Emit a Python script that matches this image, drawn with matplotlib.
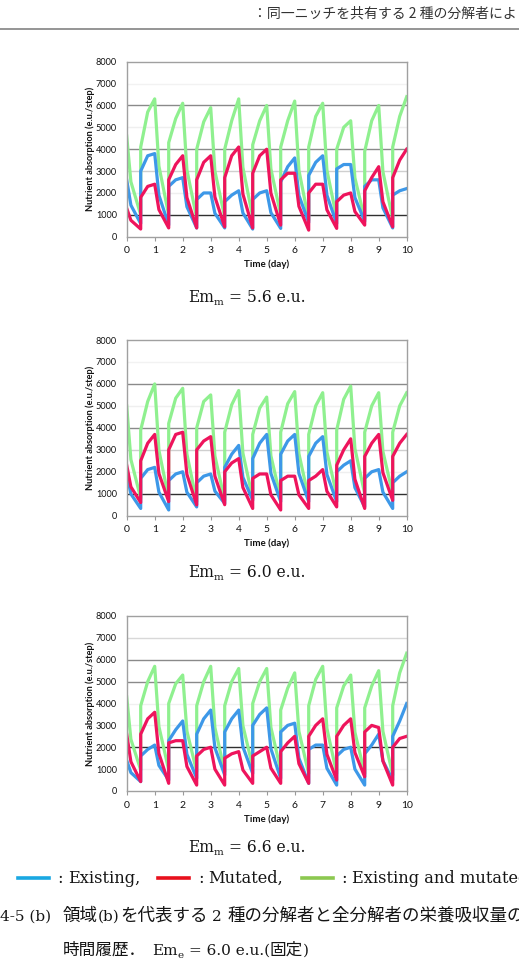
import matplotlib
matplotlib.use("Agg")
import matplotlib.pyplot as plt
from matplotlib.lines import Line2D

# ---------------- data ----------------
days = list(range(11))
y_ticks = [0, 1000, 2000, 3000, 4000, 5000, 6000, 7000, 8000]

# per series: value at t=0, then per day r (0..9):
#   jump (t=r+0.5), rise mid (t=r+0.75), peak (t=r+1)
#   decay d (0..9): mid (t=d+0.15), low (t=d+0.5)
# ---- Em_m = 5.6 ----
em56_existing_start = 2600
em56_existing_jump = [3000, 2300, 1700, 1600, 1700, 2500, 2800, 3100, 2300, 1900]
em56_existing_mid = [3700, 2600, 2000, 1900, 2000, 3200, 3400, 3300, 2600, 2100]
em56_existing_peak = [3800, 2700, 2000, 2100, 2100, 3600, 3700, 3300, 2600, 2200]
em56_existing_dec = [1440, 1900, 1370, 1070, 1085, 1100, 1890, 1900, 1790, 1320]
em56_existing_low = [600, 530, 400, 400, 350, 380, 650, 600, 700, 400]

em56_mutated_start = 1300
em56_mutated_jump = [1800, 2600, 2600, 2700, 2900, 2600, 2000, 1600, 2100, 2700]
em56_mutated_mid = [2300, 3300, 3400, 3700, 3700, 2900, 2400, 1900, 2700, 3500]
em56_mutated_peak = [2400, 3700, 3700, 4100, 4000, 2900, 2400, 2000, 3200, 4000]
em56_mutated_dec = [750, 1240, 1790, 1815, 1950, 1990, 1390, 1230, 1150, 1600]
em56_mutated_low = [350, 400, 400, 450, 400, 530, 300, 380, 530, 450]

em56_total_start = 4600
em56_total_jump = [4100, 4300, 4000, 4000, 4200, 4100, 4100, 4000, 3900, 4100]
em56_total_mid = [5700, 5400, 5250, 5300, 5300, 5300, 5500, 5000, 5300, 5500]
em56_total_peak = [6300, 6100, 5900, 6300, 6000, 6200, 6100, 5300, 6000, 6400]
em56_total_dec = [2510, 3230, 3055, 3000, 3170, 3100, 3045, 3050, 2690, 2980]
em56_total_low = [1000, 1000, 850, 900, 900, 1000, 760, 840, 800, 800]

# ---- Em_m = 6.0 ----
em60_existing_start = 1900
em60_existing_jump = [1700, 1600, 1500, 2200, 2600, 2800, 2700, 2000, 1700, 1500]
em60_existing_mid = [2100, 1900, 1800, 2800, 3300, 3400, 3300, 2300, 2000, 1800]
em60_existing_peak = [2200, 2000, 1900, 3200, 3700, 3700, 3600, 2500, 2100, 2000]
em60_existing_dec = [990, 1075, 1070, 1120, 1750, 1925, 1925, 1880, 1280, 1075]
em60_existing_low = [330, 260, 400, 560, 700, 640, 640, 640, 400, 330]

em60_mutated_start = 2300
em60_mutated_jump = [2500, 3000, 3000, 2000, 1700, 1600, 1600, 2300, 2700, 2700]
em60_mutated_mid = [3300, 3700, 3400, 2400, 1900, 1800, 1800, 3000, 3300, 3300]
em60_mutated_peak = [3700, 3800, 3600, 2600, 1900, 1800, 2100, 3500, 3700, 3700]
em60_mutated_dec = [1315, 1925, 1880, 1800, 1285, 950, 950, 1115, 1660, 1960]
em60_mutated_low = [600, 640, 490, 500, 330, 260, 330, 400, 330, 700]

em60_total_start = 5000
em60_total_jump = [3900, 4200, 4000, 3800, 3700, 3800, 3700, 3900, 3800, 3800]
em60_total_mid = [5200, 5350, 5200, 5050, 4900, 5100, 5000, 5300, 5000, 5000]
em60_total_peak = [6000, 5800, 5500, 5700, 5400, 5650, 5600, 5900, 5600, 5600]
em60_total_dec = [2560, 2980, 2810, 2720, 2850, 2730, 2830, 2900, 3060, 2930]
em60_total_low = [800, 790, 640, 700, 790, 790, 790, 940, 1000, 1000]

# ---- Em_m = 6.6 ----
em66_existing_start = 1400
em66_existing_jump = [1600, 2300, 2600, 2700, 3000, 2700, 1900, 1600, 1700, 2500]
em66_existing_mid = [1900, 2800, 3300, 3300, 3500, 3000, 2100, 1900, 2100, 3200]
em66_existing_peak = [2100, 3200, 3700, 3700, 3800, 3100, 2100, 2000, 2600, 4000]
em66_existing_dec = [840, 1170, 1680, 1980, 2020, 1930, 1505, 1040, 1000, 1380]
em66_existing_low = [430, 500, 580, 730, 800, 580, 350, 270, 270, 500]

em66_mutated_start = 2600
em66_mutated_jump = [2600, 2200, 1600, 1500, 1600, 1800, 2500, 2500, 2700, 2000]
em66_mutated_mid = [3300, 2300, 1900, 1700, 1800, 2200, 3000, 3000, 3000, 2400]
em66_mutated_peak = [3600, 2300, 2000, 1800, 2000, 2500, 3300, 3300, 2900, 2500]
em66_mutated_dec = [1340, 1715, 1120, 1000, 960, 1045, 1250, 1680, 1760, 1375]
em66_mutated_low = [430, 350, 270, 270, 350, 350, 350, 500, 650, 270]

em66_total_start = 4300
em66_total_jump = [3900, 4000, 3900, 3900, 4000, 3700, 3900, 3800, 3800, 3900]
em66_total_mid = [5000, 4900, 5000, 5000, 5000, 4700, 5100, 4800, 4800, 5400]
em66_total_peak = [5700, 5300, 5700, 5600, 5600, 5400, 5700, 5300, 5500, 6300]
em66_total_dec = [2360, 2950, 2740, 2900, 2990, 2910, 2730, 2860, 2690, 2730]
em66_total_low = [960, 960, 880, 880, 1100, 960, 800, 800, 800, 730]

captions = ["5.6", "6.0", "6.6"]
legend_labels = ["Existing,", "Mutated,", "Existing and mutated"]

# ---------------- helpers ----------------
def series(start, jump, mid, peak, dec, low):
    t = [0.0, 0.15, 0.5]
    v = [start, dec[0], low[0]]
    for r in range(10):
        t += [r + 0.5, r + 0.75, r + 1.0]
        v += [jump[r], mid[r], peak[r]]
        if r < 9:
            t += [r + 1.15, r + 1.5]
            v += [dec[r + 1], low[r + 1]]
    return t, v

charts = [
    dict(top=61.7, bottom=236.7,
         ex=(em56_existing_start, em56_existing_jump, em56_existing_mid, em56_existing_peak, em56_existing_dec, em56_existing_low),
         mu=(em56_mutated_start, em56_mutated_jump, em56_mutated_mid, em56_mutated_peak, em56_mutated_dec, em56_mutated_low),
         to=(em56_total_start, em56_total_jump, em56_total_mid, em56_total_peak, em56_total_dec, em56_total_low),
         grid={1000: "#303030", 2000: "#efefef", 3000: "#cfcfcf", 4000: "#8a8a8a",
               5000: "#efefef", 6000: "#8a8a8a", 7000: "#f2f2f2"},
         cap_y=297),
    dict(top=340.0, bottom=515.7,
         ex=(em60_existing_start, em60_existing_jump, em60_existing_mid, em60_existing_peak, em60_existing_dec, em60_existing_low),
         mu=(em60_mutated_start, em60_mutated_jump, em60_mutated_mid, em60_mutated_peak, em60_mutated_dec, em60_mutated_low),
         to=(em60_total_start, em60_total_jump, em60_total_mid, em60_total_peak, em60_total_dec, em60_total_low),
         grid={1000: "#303030", 2000: "#efefef", 3000: "#cfcfcf", 4000: "#8a8a8a",
               5000: "#efefef", 6000: "#8a8a8a", 7000: "#f2f2f2"},
         cap_y=572),
    dict(top=616.0, bottom=791.0,
         ex=(em66_existing_start, em66_existing_jump, em66_existing_mid, em66_existing_peak, em66_existing_dec, em66_existing_low),
         mu=(em66_mutated_start, em66_mutated_jump, em66_mutated_mid, em66_mutated_peak, em66_mutated_dec, em66_mutated_low),
         to=(em66_total_start, em66_total_jump, em66_total_mid, em66_total_peak, em66_total_dec, em66_total_low),
         grid={1000: "#f0f0f0", 2000: "#303030", 3000: "#f0f0f0", 4000: "#f0f0f0",
               5000: "#8a8a8a", 6000: "#8a8a8a", 7000: "#d8d8d8"},
         cap_y=847),
]

W, H = 519, 966
fig = plt.figure(figsize=(W / 100, H / 100), dpi=100)
renderer = fig.canvas.get_renderer()

SERIF = ["DejaVu Serif", "Noto Sans CJK JP"]
CJK = ["Noto Sans CJK JP", "DejaVu Sans"]
CHART_FONT = "Lato"
TXT = "#151515"

C_BLUE = "#3d98e8"
C_RED = "#ee145c"
C_GREEN = "#8ff08f"

AX_L, AX_R = 126.7, 406.7


def rich(x, base_y, pieces):
    """pieces: (text, family, size, dy_px, gap_after_px); drawn left to right."""
    for txt, fam, size, dy, gap in pieces:
        t = fig.text(x / W, 1 - (base_y + dy) / H, txt, fontsize=size, family=fam,
                     ha="left", va="baseline", color=TXT)
        x += t.get_window_extent(renderer).width + gap
    return x


for i, ch in enumerate(charts):
    top, bot = ch["top"], ch["bottom"]
    ax = fig.add_axes([AX_L / W, 1 - bot / H, (AX_R - AX_L) / W, (bot - top) / H])
    ax.set_xlim(0, 10)
    ax.set_ylim(0, 8000)
    for yv, col in ch["grid"].items():
        ax.axhline(yv, color=col, lw=1.0, zorder=1)
    for key, col in (("to", C_GREEN), ("ex", C_BLUE), ("mu", C_RED)):
        t, v = series(*ch[key])
        ax.plot(t, v, color=col, lw=2.3, zorder=2, solid_joinstyle="round")
    ax.set_xticks(days)
    ax.set_yticks(y_ticks)
    ax.tick_params(axis="x", length=3, width=0.8, color="#9a9a9a", pad=4,
                   labelsize=7.5, labelcolor="#111111")
    ax.tick_params(axis="y", length=0, pad=7, labelsize=6.6, labelcolor="#111111")
    for lab in ax.get_xticklabels() + ax.get_yticklabels():
        lab.set_fontfamily(CHART_FONT)
    for sp in ax.spines.values():
        sp.set_color("#a0a0a0")
        sp.set_linewidth(1.0)
    fig.text(90 / W, 1 - (top + bot) / 2 / H, "Nutrient absorption (e.u./step)",
             rotation=90, ha="center", va="center", fontsize=6.6,
             fontweight="bold", family=CHART_FONT, color="#111111")
    fig.text((AX_L + AX_R) / 2 / W, 1 - (bot + 28) / H, "Time (day)",
             ha="center", va="center", fontsize=7, fontweight="bold",
             family=CHART_FONT, color="#111111")
    # caption  Em_m = x.x e.u.
    rich(188, ch["cap_y"] + 5, [
        ("Em", SERIF, 11.2, 0, 0),
        ("m", SERIF, 7.5, 3, 5),
        ("= " + captions[i] + " e.u.", SERIF, 11.2, 0, 0),
    ])

# header
fig.text(517 / W, 1 - 13 / H, "：同一ニッチを共有する 2 種の分解者によ",
         ha="right", va="center", fontsize=10, family=CJK, color="#333333")
fig.add_artist(Line2D([0, 1], [1 - 29 / H, 1 - 29 / H], color="#8c8c8c", lw=1.3))

# legend row
ly = 878
for (x0, x1, col, cx, tx), lab in zip(((18, 49, "#1aa8e2", 57, 68),
                                       (158, 189, "#e8101c", 198, 208),
                                       (302, 333, "#8cc850", 341, 352)), legend_labels):
    fig.add_artist(Line2D([x0 / W, x1 / W], [1 - ly / H, 1 - ly / H], color=col, lw=2.6))
    fig.text(cx / W, 1 - (ly + 5) / H, ":", ha="left", va="baseline",
             fontsize=11.7, family=SERIF, color=TXT)
    fig.text(tx / W, 1 - (ly + 5) / H, lab, ha="left", va="baseline",
             fontsize=11.7, family=SERIF, color=TXT)

# figure caption
rich(0, 921, [
    ("4-5 (b)", SERIF, 11, 0, 12),
    ("領域", CJK, 12.6, 0, 0),
    ("(b)", SERIF, 11, 0, 0),
    ("を代表する", CJK, 12.6, 0, 5),
    ("2", SERIF, 11, 0, 5),
    ("種の分解者と全分解者の栄養吸収量の", CJK, 12.6, 0, 0),
])
rich(63, 955, [
    ("時間履歴．", CJK, 12.0, 0, 6),
    ("Em", SERIF, 11, 0, 0),
    ("e", SERIF, 7.5, 3, 5),
    ("= 6.0 e.u.(", SERIF, 11, 0, 0),
    ("固定", CJK, 12.0, 0, 0),
    (")", SERIF, 11, 0, 0),
])

fig.savefig("out.png", dpi=100)
